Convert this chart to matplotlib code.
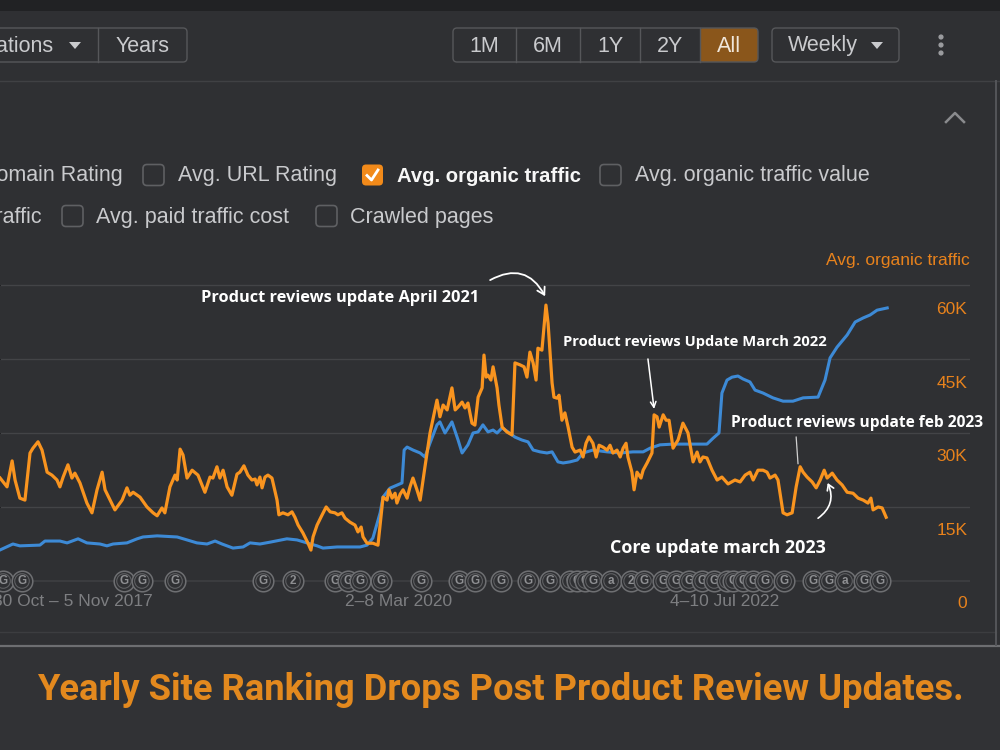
import matplotlib
matplotlib.use("Agg")
import matplotlib.pyplot as plt
from matplotlib.patches import FancyBboxPatch, Rectangle, Polygon, Circle
from matplotlib.lines import Line2D
from matplotlib.transforms import Affine2D

# ---------------- data (week index since 2017-05-22) ----------------
orange_weeks = [-4.3, -1.7, 0.2, 1.3, 3.1, 5.0, 6.9, 8.0, 9.9, 11.4,
                13.3, 15.1, 17.0, 18.1, 19.3, 21.1, 22.6, 23.7, 25.6, 28.2,
                30.1, 32.0, 33.9, 35.0, 36.9, 38.7, 41.4, 43.2, 44.3, 45.5,
                48.1, 50.7, 53.0, 54.5, 56.3, 57.4, 59.3, 61.2, 62.0, 63.1,
                64.2, 65.7, 67.6, 69.8, 72.4, 74.3, 75.4, 76.9, 78.0, 79.2,
                80.7, 82.5, 84.4, 85.5, 87.0, 88.5, 90.0, 91.2, 91.9, 93.0,
                93.8, 94.9, 96.0, 97.5, 99.4, 100.1, 101.6, 103.5, 105.0, 106.1,
                107.3, 109.1, 111.0, 112.1, 112.9, 114.4, 116.3, 117.8, 119.3, 121.1,
                122.2, 123.7, 124.9, 126.7, 128.6, 129.7, 130.9, 131.6, 133.1, 135.3,
                137.2, 139.1, 140.6, 141.3, 142.5, 143.6, 144.3, 145.5, 146.6, 148.1,
                149.2, 150.3, 151.8, 153.0, 154.8, 156.7, 159.3, 160.4, 161.6, 163.1,
                164.9, 166.1, 167.2, 168.7, 169.8, 170.9, 172.4, 173.5, 174.7, 176.2,
                176.9, 177.7, 178.4, 179.5, 180.3, 181.8, 182.5, 183.7, 185.5, 187.4,
                188.5, 190.4, 191.9, 193.0, 194.1, 195.3, 196.4, 197.1, 198.6, 200.1,
                200.9, 202.4, 203.1, 204.3, 205.0, 206.1, 207.2, 208.4, 209.9, 211.0,
                212.9, 214.0, 215.1, 216.2, 217.7, 218.9, 220.0, 221.5, 223.0, 224.1,
                225.2, 226.7, 227.9, 229.0, 230.1, 230.8, 232.3, 233.1, 234.2, 235.7,
                236.5, 238.0, 239.8, 240.6, 241.7, 242.5, 244.0, 245.1, 246.2, 247.7,
                249.6, 251.4, 253.3, 255.2, 256.7, 257.8, 258.9, 260.4, 262.3, 264.2,
                266.0, 268.3, 270.9, 272.8, 274.7, 276.5, 277.7, 279.5, 281.4, 282.9,
                284.0, 285.9, 287.0, 288.9, 290.4, 292.3, 293.8, 295.3, 296.4, 297.9,
                299.8, 301.3, 302.8, 304.3, 305.4, 307.3, 309.1, 311.0, 312.9, 315.1,
                317.0, 318.9, 320.7, 321.8, 322.6, 324.5, 326.0, 327.5]

# Avg. organic traffic, thousands
organic_traffic_k = [25.3, 23.5, 28.8, 24.9, 21.2, 20.8, 30.4, 31.4, 32.7, 31.0,
                     26.5, 25.9, 24.9, 23.5, 25.5, 28.0, 25.3, 26.3, 24.3, 20.2,
                     18.2, 22.9, 26.5, 22.9, 20.8, 18.8, 20.8, 23.3, 21.8, 22.4,
                     21.4, 19.4, 18.2, 17.6, 19.2, 18.2, 23.5, 25.9, 24.9, 31.2,
                     30.0, 25.3, 26.9, 25.9, 22.4, 25.5, 25.3, 27.6, 25.3, 26.9,
                     23.5, 21.8, 26.1, 26.5, 27.8, 25.9, 24.9, 25.1, 23.9, 25.5,
                     23.3, 25.5, 25.9, 25.3, 20.8, 17.8, 18.2, 17.8, 18.4, 17.3,
                     15.7, 14.1, 12.0, 10.6, 13.3, 15.7, 17.8, 19.4, 18.4, 18.2,
                     17.8, 18.2, 17.1, 16.3, 15.7, 14.3, 15.3, 13.3, 12.0, 12.0,
                     11.6, 21.4, 20.8, 22.9, 21.2, 22.2, 20.2, 22.0, 22.9, 21.2,
                     23.5, 25.3, 22.9, 20.8, 27.6, 34.5, 41.2, 37.8, 40.2, 39.2,
                     43.7, 39.2, 39.8, 40.8, 39.6, 40.6, 36.5, 36.1, 41.8, 43.7,
                     50.4, 45.9, 46.3, 45.3, 48.0, 43.7, 40.2, 35.7, 34.7, 34.1,
                     48.8, 48.4, 48.0, 45.9, 51.0, 48.8, 45.3, 51.8, 51.4, 60.6,
                     56.9, 44.7, 41.8, 41.6, 42.2, 37.1, 38.6, 35.7, 31.6, 30.6,
                     31.0, 29.6, 32.4, 33.7, 32.4, 29.6, 32.0, 31.6, 31.0, 32.0,
                     30.4, 31.0, 29.6, 31.4, 32.4, 29.6, 26.5, 22.9, 26.5, 25.3,
                     26.9, 28.4, 30.4, 38.2, 37.8, 35.7, 38.2, 37.1, 37.1, 31.4,
                     33.1, 36.5, 34.5, 28.6, 30.6, 28.6, 29.6, 29.4, 26.9, 24.9,
                     25.5, 24.1, 24.9, 24.5, 25.9, 26.5, 24.9, 26.9, 26.9, 26.5,
                     25.3, 25.9, 24.9, 18.2, 17.8, 18.2, 23.5, 27.6, 26.5, 25.5,
                     24.5, 23.3, 24.9, 26.9, 25.3, 26.3, 24.9, 23.9, 22.4, 22.2,
                     21.2, 20.8, 20.2, 21.2, 18.8, 19.4, 19.2, 17.3]

blue_weeks = [-4.3, 0.5, 3.1, 10.6, 12.5, 18.1, 20.8, 24.9, 28.2, 33.1,
              35.7, 38.0, 43.2, 47.0, 49.2, 54.5, 62.0, 65.7, 69.4, 73.2,
              76.2, 78.8, 82.9, 86.7, 89.3, 93.0, 96.8, 103.1, 106.9, 110.6,
              114.4, 116.6, 121.9, 130.5, 133.1, 135.3, 138.0, 139.1, 141.7, 144.3,
              146.2, 147.0, 148.1, 150.3, 153.0, 154.8, 156.7, 159.3, 160.4, 162.3,
              164.9, 167.2, 168.7, 170.9, 172.8, 174.7, 176.5, 178.4, 180.3, 181.8,
              183.7, 185.9, 188.5, 191.1, 193.4, 195.3, 197.9, 200.5, 202.4, 204.6,
              206.5, 209.1, 211.8, 214.0, 217.7, 223.0, 227.9, 232.7, 236.5, 239.1,
              242.8, 247.7, 252.9, 260.4, 262.7, 264.9, 266.0, 267.9, 269.8, 272.0,
              273.9, 276.5, 278.4, 281.4, 285.1, 288.9, 292.6, 296.4, 302.0, 304.6,
              306.5, 309.1, 312.9, 315.9, 318.9, 321.5, 324.1, 326.0, 327.9]

# left (hidden) axis metric, 0-100 scale
blue_metric = [8.4, 10.0, 9.5, 9.7, 10.8, 10.8, 10.3, 11.4, 10.3, 10.0,
               9.5, 10.0, 10.3, 11.4, 11.9, 12.2, 11.9, 11.1, 10.3, 10.0,
               10.8, 10.0, 8.9, 9.2, 10.3, 10.0, 10.5, 11.4, 11.1, 10.3,
               9.5, 8.9, 9.2, 9.2, 9.7, 11.6, 18.4, 22.7, 25.1, 25.9,
               26.5, 35.4, 36.2, 35.4, 34.6, 33.5, 37.3, 42.2, 43.0, 40.0,
               43.0, 38.1, 34.6, 36.8, 40.0, 40.3, 42.2, 40.3, 40.8, 40.0,
               41.4, 40.3, 38.9, 38.1, 37.6, 35.4, 34.9, 34.6, 34.9, 32.2,
               31.9, 32.2, 32.7, 34.6, 35.4, 34.9, 34.6, 34.9, 34.9, 35.9,
               36.8, 37.0, 37.0, 37.0, 38.6, 40.0, 50.8, 54.3, 55.1, 55.4,
               54.6, 53.8, 51.6, 50.8, 49.5, 48.6, 48.6, 49.5, 49.7, 54.3,
               60.3, 63.2, 66.5, 70.0, 71.1, 71.9, 73.2, 73.5, 73.8]

event_weeks = [-3.2, 3.9, 42.1, 48.8, 61.2, 94.2, 105.4, 121.1, 126.0, 130.5,
               138.3, 153.3, 167.6, 173.6, 183.3, 193.4, 201.6, 209.1, 211.8, 214.8,
               217.7, 224.5, 232.0, 236.8, 244.0, 248.8, 253.7, 258.6, 263.1, 267.9,
               270.2, 273.9, 277.7, 282.2, 289.3, 300.1, 306.1, 312.1, 319.2, 325.2]
event_labels = ['G', 'G', 'G', 'G', 'G', 'G', '2', 'G', 'G', 'G',
                'G', 'G', 'G', 'G', 'G', 'G', 'G', 'G', 'G', 'G',
                'G', 'a', '2', 'G', 'G', 'G', 'G', 'G', 'G', 'G',
                'G', 'G', 'G', 'G', 'G', 'G', 'G', 'a', 'G', 'G']

x_tick_weeks = [23, 145, 267]
x_tick_labels = ['30 Oct \u2013 5 Nov 2017', '2\u20138 Mar 2020', '4\u201310 Jul 2022']
y_ticks_k = [0, 15, 30, 45, 60]
y_tick_labels = ['0', '15K', '30K', '45K', '60K']
left_grid = [20, 40, 60, 80]

# ---------------- style ----------------
W, H = 1000, 750
BG = '#2f3033'
TOP = '#212224'
GRID = '#434447'
BORDER = '#56575a'
TXT = '#c9cacd'
ORANGE = '#f9941f'
ORANGE_T = '#e8821c'
BLUE = '#3d8ad6'
GRAYT = '#7d7e81'
SANS = ['Liberation Sans', 'DejaVu Sans']
ANN = ['Open Sans', 'DejaVu Sans']

fig = plt.figure(figsize=(10, 7.5), dpi=100, facecolor=BG)
PX = Affine2D().scale(1 / W, -1 / H).translate(0, 1) + fig.transFigure


def ftext(x, y, s, **kw):
    kw.setdefault('family', SANS)
    return fig.text(x / W, 1 - y / H, s, **kw)


def rect(x0, y0, x1, y1, fc, ec='none', lw=1.0, r=0.0, z=1):
    if r > 0:
        p = FancyBboxPatch((x0, y0), x1 - x0, y1 - y0,
                           boxstyle=f'round,pad=0,rounding_size={r}',
                           transform=PX, fc=fc, ec=ec, lw=lw, zorder=z)
    else:
        p = Rectangle((x0, y0), x1 - x0, y1 - y0, transform=PX,
                      fc=fc, ec=ec, lw=lw, zorder=z)
    fig.patches.append(p)
    return p


def hline(x0, x1, y, color, lw=1.0):
    fig.add_artist(Line2D([x0, x1], [y, y], transform=PX, color=color, lw=lw))


def vline(x, y0, y1, color, lw=1.0):
    fig.add_artist(Line2D([x, x], [y0, y1], transform=PX, color=color, lw=lw))


# ---------------- chrome ----------------
rect(0, 0, W, 11, TOP)
hline(0, W, 81, '#404144', 1.0)
rect(0, 646, W, H, '#313235')
hline(0, 996, 632, '#3c3d40', 1.0)
hline(0, W, 645.5, '#6d6e71', 1.6)
vline(996, 81, 645, '#55565a', 1.4)

# left button group
rect(-12, 28, 187, 62, 'none', BORDER, 1.0, 4)
vline(98, 28, 62, BORDER)
ftext(54, 46, 'Annotations', ha='right', va='center', fontsize=15.5, color=TXT)
fig.patches.append(Polygon([(69, 42), (81, 42), (75, 49)], closed=True,
                           transform=PX, fc=TXT, ec='none'))
ftext(143, 46, 'Years', ha='center', va='center', fontsize=15.5, color=TXT)

# range buttons
rng = [('1M', 453, 516), ('6M', 516, 580), ('1Y', 580, 640), ('2Y', 640, 700), ('All', 700, 758)]
rect(700, 28, 758, 62, '#8a561b', 'none', 0, 3)
rect(453, 28, 758, 62, 'none', BORDER, 1.0, 4)
for lab, a, b in rng[:-1]:
    vline(b, 28, 62, BORDER)
for lab, a, b in rng:
    ftext((a + b) / 2, 46, lab, ha='center', va='center', fontsize=15.5,
          color='#f0e6da' if lab == 'All' else TXT)
rect(772, 28, 899, 62, 'none', BORDER, 1.0, 4)
ftext(788, 46, 'Weekly', ha='left', va='center', fontsize=15.5, color=TXT)
fig.patches.append(Polygon([(871, 42), (883, 42), (877, 49)], closed=True,
                           transform=PX, fc=TXT, ec='none'))
for yy in (37, 45, 53):
    fig.patches.append(Circle((941, yy), 2.6, transform=PX, fc='#9a9b9e', ec='none'))
fig.add_artist(Line2D([946, 955, 964], [122, 113, 122], transform=PX,
                      color='#8a8b8e', lw=1.8))


# metric checkboxes
def checkbox(x0, yc, checked=False):
    if checked:
        rect(x0, yc - 10.5, x0 + 21, yc + 10.5, '#f28a1a', 'none', 0, 4)
        fig.add_artist(Line2D([x0 + 5, x0 + 9.5, x0 + 16], [yc + 0.5, yc + 5, yc - 5],
                              transform=PX, color='white', lw=2.0))
    else:
        rect(x0, yc - 10.5, x0 + 21, yc + 10.5, 'none', '#5f6063', 1.2, 4)


checkbox(143, 175)
checkbox(362, 175, True)
checkbox(600, 175)
checkbox(62, 216)
checkbox(316, 216)
ftext(123, 176, 'Domain Rating', ha='right', va='center', fontsize=15.5, color=TXT)
ftext(178, 176, 'Avg. URL Rating', ha='left', va='center', fontsize=15.5, color=TXT)
ftext(397, 176, 'Avg. organic traffic', ha='left', va='center', fontsize=14.6,
      color='#f7f7f7', fontweight='bold')
ftext(635, 176, 'Avg. organic traffic value', ha='left', va='center', fontsize=15.5, color=TXT)
ftext(42, 217, 'Avg. paid traffic', ha='right', va='center', fontsize=15.5, color=TXT)
ftext(96, 217, 'Avg. paid traffic cost', ha='left', va='center', fontsize=15.5, color=TXT)
ftext(350, 217, 'Crawled pages', ha='left', va='center', fontsize=15.5, color=TXT)

# ---------------- chart ----------------
ax = fig.add_axes([0, 1 - 620 / H, 970 / W, (620 - 211) / H])
ax.patch.set_alpha(0)
ax.set_xlim(-4.34, 358.9)
ax.set_ylim(-10.54, 100)
for s in ax.spines.values():
    s.set_visible(False)
ax.set_yticks(left_grid)
ax.yaxis.grid(True, color=GRID, lw=1.0)
ax.set_axisbelow(True)
ax.tick_params(axis='y', left=False, labelleft=False)
ax.set_xticks(x_tick_weeks, labels=x_tick_labels)
ax.tick_params(axis='x', length=0, pad=-18.5, labelsize=12.5, labelcolor=GRAYT)
for lbl in ax.get_xticklabels():
    lbl.set_family(SANS)
ax.axhline(0, color='#3e3f42', lw=1.2, zorder=0.5)

ax.plot(blue_weeks, blue_metric, color=BLUE, lw=2.2, zorder=2,
        solid_joinstyle='round')

for i, (w, lab) in enumerate(zip(event_weeks, event_labels)):
    z = 3 + i * 0.01
    ax.scatter([w], [0], s=220, facecolor=BG, edgecolor='#6e6f72', lw=1.1,
               zorder=z, clip_on=False)
    ax.scatter([w], [0], s=110, facecolor='none', edgecolor='#5e5f62', lw=0.8,
               zorder=z + 0.002, clip_on=False)
    ax.text(w, 0, lab, ha='center', va='center', fontsize=8.5, color='#8e8f92',
            fontweight='bold', zorder=z + 0.005, family=SANS)

ax2 = ax.twinx()
ax2.set_ylim(-3.67, 79.8)
for s in ax2.spines.values():
    s.set_visible(False)
ax2.plot(orange_weeks, organic_traffic_k, color=ORANGE, lw=2.3, zorder=3,
         solid_joinstyle='round')
ax2.set_yticks(y_ticks_k, labels=y_tick_labels)
ax2.tick_params(axis='y', length=0, pad=-2, labelsize=12.5, labelcolor=ORANGE_T)
for lbl in ax2.get_yticklabels():
    lbl.set_horizontalalignment('right')
    lbl.set_family(SANS)

ftext(970, 261, 'Avg. organic traffic', ha='right', va='center', fontsize=12.5,
      color=ORANGE_T)

# ---------------- annotations ----------------
ann_kw = dict(color='white', fontweight='bold', family=ANN, ha='center', va='center', zorder=6)
ax2.text(123.0, 62.0, 'Product reviews update April 2021', fontsize=11.8, **ann_kw)
ax2.text(256.0, 53.1, 'Product reviews Update March 2022', fontsize=10.6, **ann_kw)
ax2.text(316.6, 36.5, 'Product reviews update feb 2023', fontsize=11.2, **ann_kw)
ax2.text(264.6, 11.0, 'Core update march 2023', fontsize=12.9, **ann_kw)

ax2.annotate('', xy=(199.8, 62.4), xytext=(179.2, 65.7),
             arrowprops=dict(arrowstyle='->,head_length=0.5,head_width=0.3', color='white',
                             lw=1.3, connectionstyle='arc3,rad=-0.5',
                             shrinkA=0, shrinkB=0), zorder=6)
ax2.annotate('', xy=(240.6, 39.4), xytext=(238.3, 49.6),
             arrowprops=dict(arrowstyle='->,head_length=0.4,head_width=0.2', color='white',
                             lw=1.1, shrinkA=0, shrinkB=0), zorder=6)
ax2.annotate('', xy=(294.5, 28.2), xytext=(293.8, 33.7),
             arrowprops=dict(arrowstyle='-', color='#d0d0d0', lw=0.9,
                             shrinkA=0, shrinkB=0), zorder=6)
ax2.annotate('', xy=(305.6, 24.3), xytext=(302.0, 17.1),
             arrowprops=dict(arrowstyle='->,head_length=0.4,head_width=0.25', color='white',
                             lw=1.2, connectionstyle='arc3,rad=0.4',
                             shrinkA=0, shrinkB=0), zorder=6)

# ---------------- title banner ----------------
ftext(500, 690, 'Yearly Site Ranking Drops Post Product Review Updates.', ha='center',
      va='center', fontsize=26.2, fontweight='bold', color='#e3891e',
      family=['Roboto', 'DejaVu Sans'])

fig.savefig('out.png', dpi=100, facecolor=BG)
